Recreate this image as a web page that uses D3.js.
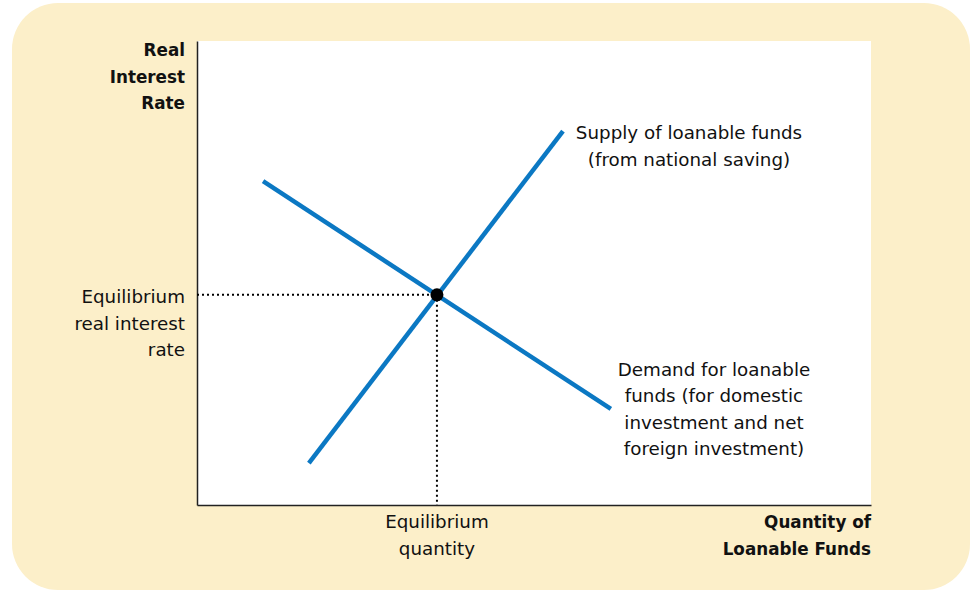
<!DOCTYPE html>
<html>
<head>
<meta charset="utf-8">
<script src="https://cdn.jsdelivr.net/npm/d3@7"></script>
<style>
  html, body { margin: 0; padding: 0; background: #ffffff; }
  svg { display: block; }
</style>
</head>
<body>
<svg id="chart" width="971" height="592"></svg>
<script>
// ---- data (in abstract quantity / rate units, 0–100) ----
const supplyX = [16.6, 54.3];
const supplyY = [9.0, 80.6];
const demandX = [9.8, 61.4];
const demandY = [69.8, 20.7];
const equilibriumX = [35.6];
const equilibriumY = [45.3];

const yAxisTitle = ["Real", "Interest", "Rate"];
const xAxisTitle = ["Quantity of", "Loanable Funds"];
const yTickLabel = ["Equilibrium", "real interest", "rate"];
const xTickLabel = ["Equilibrium", "quantity"];
const supplyLabel = ["Supply of loanable funds", "(from national saving)"];
const demandLabel = ["Demand for loanable", "funds (for domestic", "investment and net", "foreign investment)"];

// ---- layout ----
const plot = { left: 197, right: 871, top: 41, bottom: 505 };
const blue = "#0b78c3";
const bg = "#fcefc9";
const fontReg = "'DejaVu Sans', sans-serif";

const svg = d3.select("#chart");

svg.append("rect")
  .attr("x", 12).attr("y", 3)
  .attr("width", 958).attr("height", 587)
  .attr("rx", 46).attr("ry", 46)
  .attr("fill", bg);

svg.append("rect")
  .attr("x", plot.left).attr("y", plot.top)
  .attr("width", plot.right - plot.left).attr("height", plot.bottom - plot.top)
  .attr("fill", "#ffffff");

const x = d3.scaleLinear().domain([0, 100]).range([plot.left, plot.right]);
const y = d3.scaleLinear().domain([0, 100]).range([plot.bottom, plot.top]);

// axes (no ticks)
svg.append("g")
  .attr("transform", `translate(0,${plot.bottom})`)
  .call(d3.axisBottom(x).tickValues([]).tickSizeOuter(0))
  .call(g => g.select(".domain").attr("stroke", "#222").attr("stroke-width", 1.5));
svg.append("g")
  .attr("transform", `translate(${plot.left},0)`)
  .call(d3.axisLeft(y).tickValues([]).tickSizeOuter(0))
  .call(g => g.select(".domain").attr("stroke", "#222").attr("stroke-width", 1.5));

// dotted guide lines
const ex = x(equilibriumX[0]), ey = y(equilibriumY[0]);
svg.append("line")
  .attr("x1", x(0)).attr("x2", ex).attr("y1", ey).attr("y2", ey)
  .attr("stroke", "#000").attr("stroke-width", 2).attr("stroke-dasharray", "2,3");
svg.append("line")
  .attr("x1", ex).attr("x2", ex).attr("y1", ey).attr("y2", y(0))
  .attr("stroke", "#000").attr("stroke-width", 2).attr("stroke-dasharray", "2,3");

// curves
const line = d3.line().x(d => x(d[0])).y(d => y(d[1]));
svg.append("path")
  .datum(demandX.map((v, i) => [v, demandY[i]]))
  .attr("d", line).attr("fill", "none")
  .attr("stroke", blue).attr("stroke-width", 4.5);
svg.append("path")
  .datum(supplyX.map((v, i) => [v, supplyY[i]]))
  .attr("d", line).attr("fill", "none")
  .attr("stroke", blue).attr("stroke-width", 4.5);

// equilibrium point
svg.append("circle")
  .attr("cx", ex).attr("cy", ey).attr("r", 6.5).attr("fill", "#000");

// text helper
function block(lines, xPos, yFirst, step, anchor, weight, size) {
  const t = svg.append("text")
    .attr("font-family", fontReg)
    .attr("font-size", size)
    .attr("font-weight", weight)
    .attr("fill", "#111")
    .attr("text-anchor", anchor);
  lines.forEach((s, i) => {
    t.append("tspan").attr("x", xPos).attr("y", yFirst + i * step).text(s);
  });
}

block(yAxisTitle, 185, 56, 26.5, "end", "bold", 16.8);
block(xAxisTitle, 871, 528, 27, "end", "bold", 16.8);
block(yTickLabel, 185, 303, 26.5, "end", "normal", 18.3);
block(xTickLabel, ex, 528, 27, "middle", "normal", 18.3);
block(supplyLabel, 689, 139, 26.5, "middle", "normal", 18.3);
block(demandLabel, 714, 376, 26.3, "middle", "normal", 18.3);
</script>
</body>
</html>
